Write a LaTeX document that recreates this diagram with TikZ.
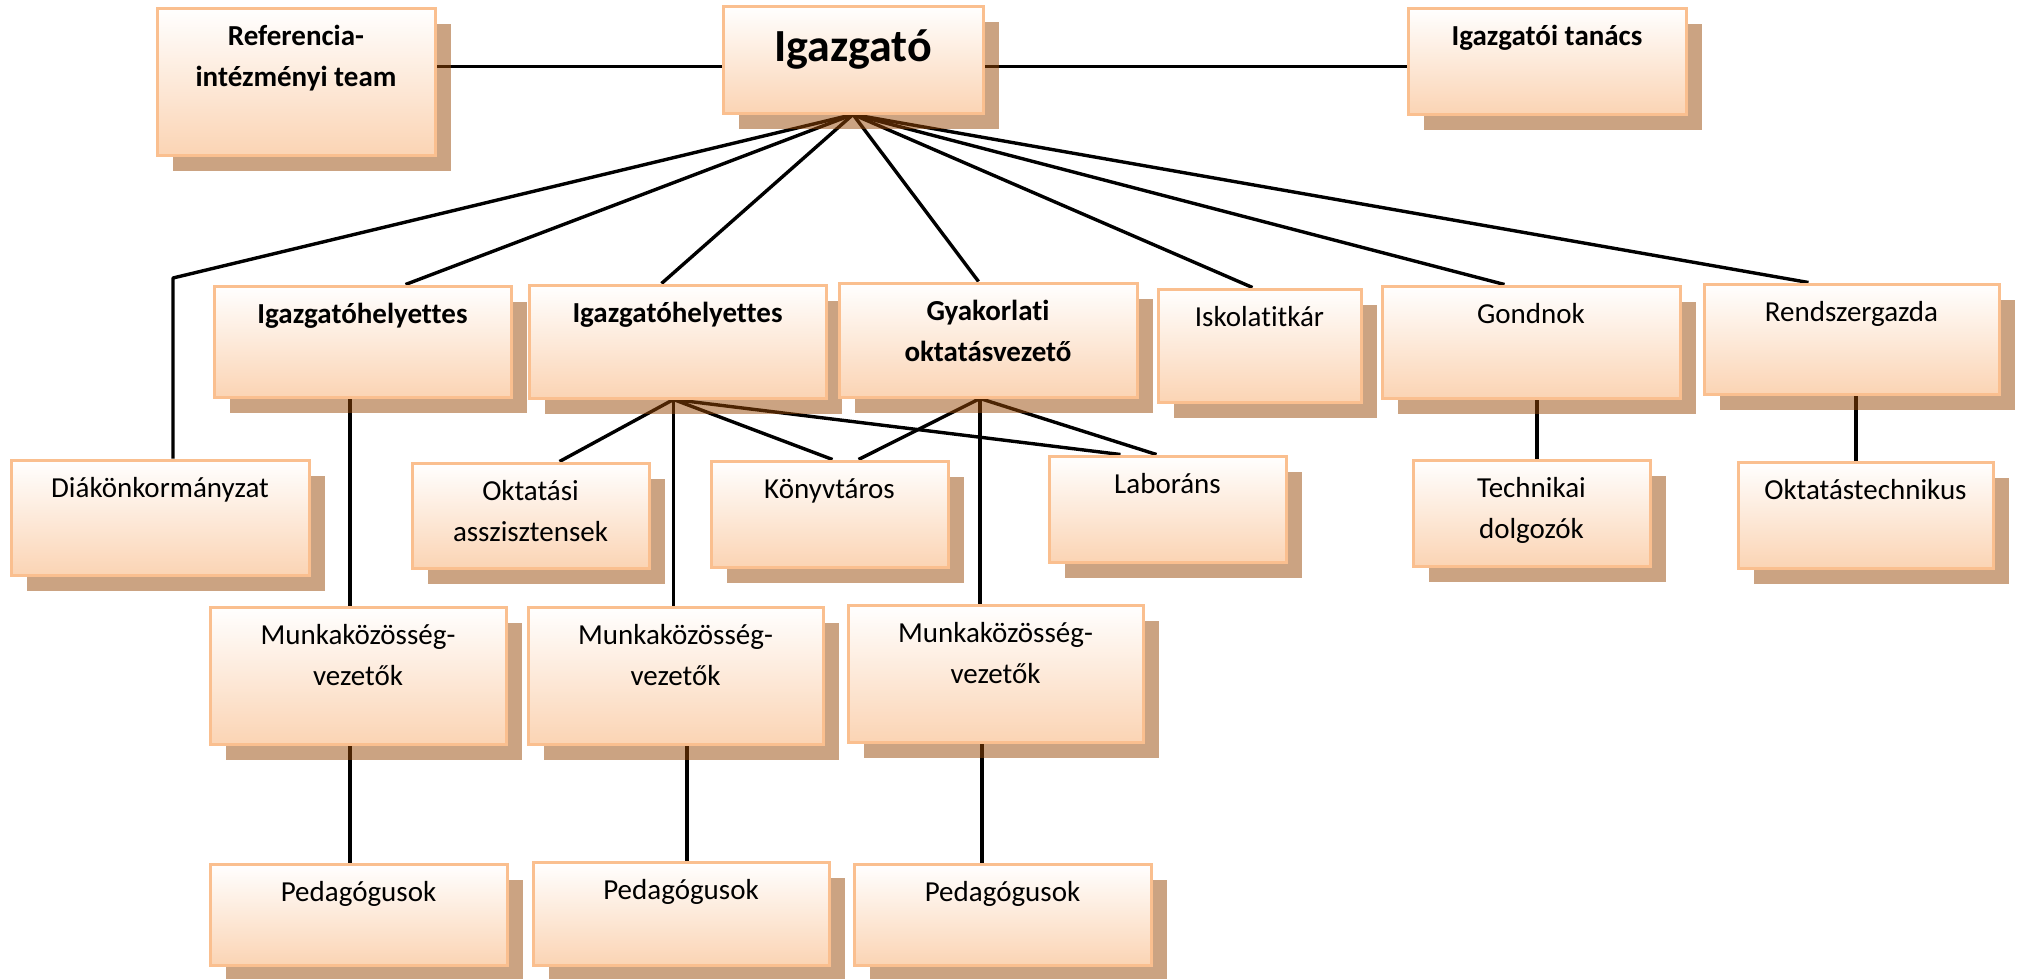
\documentclass[tikz,border=0pt]{standalone}
\usepackage{fontspec}
\setmainfont[Ligatures={NoCommon}]{Carlito}
\usetikzlibrary{shadows,calc,backgrounds}
\definecolor{bord}{RGB}{250,191,143}
\definecolor{peach}{RGB}{251,212,180}
\definecolor{shadowc}{RGB}{152,72,6}
\tikzset{
  bx/.style={draw=bord, line width=3pt, top color=white, bottom color=peach, inner sep=0pt,
    drop shadow={shadow xshift=16pt, shadow yshift=-16pt, fill=shadowc, opacity=0.5}},
  tx/.style={anchor=base, inner sep=0pt, font=\fontsize{29}{35}\selectfont},
  btx/.style={anchor=base, inner sep=0pt, font=\fontsize{29}{35}\selectfont\bfseries},
  bigtx/.style={anchor=base, inner sep=0pt, font=\fontsize{46}{55}\selectfont\bfseries},
  conn/.style={draw=black, line width=3.4pt, line join=round},
}
\newcommand\mybox[5]{\node[bx, minimum width={#4-#2}, minimum height={#5-#3}] (#1) at ({(#2+#4)/2},{(#3+#5)/2}) {};}
\newcommand\firstline[3]{\node[#2] (#1-a) at ($(#1.north)+(0,39)$) {#3};}
\newcommand\secondline[3]{\node[#2] (#1-b) at ($(#1.north)+(0,80)$) {#3};}
\begin{document}
\begin{tikzpicture}[x=1pt,y=-1pt]
\useasboundingbox (0,0) rectangle (2019,978);
% boxes
\mybox{ref}{157}{8}{435}{155}
\mybox{igaz}{723}{6}{983}{113}
\mybox{tanacs}{1408}{8}{1686}{114}
\mybox{ih1}{214}{286}{511}{397}
\mybox{ih2}{529}{285}{826}{398}
\mybox{gyak}{839}{283}{1137}{397}
\mybox{iskola}{1158}{289}{1361}{402}
\mybox{gondnok}{1382}{286}{1680}{398}
\mybox{rendszer}{1704}{284}{1999}{394}
\mybox{diak}{11}{460}{309}{575}
\mybox{oktasszt}{412}{463}{649}{568}
\mybox{konyv}{711}{461}{948}{567}
\mybox{labor}{1049}{456}{1286}{562}
\mybox{techn}{1413}{460}{1650}{566}
\mybox{okttech}{1738}{462}{1993}{568}
\mybox{mv1}{210}{607}{506}{744}
\mybox{mv2}{528}{607}{823}{744}
\mybox{mv3}{848}{605}{1143}{742}
\mybox{ped1}{210}{864}{507}{965}
\mybox{ped2}{533}{862}{829}{965}
\mybox{ped3}{854}{864}{1151}{965}
% texts
\firstline{ref}{btx}{Referencia-}
\secondline{ref}{btx}{intézményi team}
\node[bigtx] (igaz-a) at ($(igaz.north)+(0,57)$) {Igazgató};
\firstline{tanacs}{btx}{Igazgatói tanács}
\firstline{ih1}{btx}{Igazgatóhelyettes}
\firstline{ih2}{btx}{Igazgatóhelyettes}
\firstline{gyak}{btx}{Gyakorlati}
\secondline{gyak}{btx}{oktatásvezető}
\firstline{iskola}{tx}{Iskolatitkár}
\firstline{gondnok}{tx}{Gondnok}
\firstline{rendszer}{tx}{Rendszergazda}
\firstline{diak}{tx}{Diákönkormányzat}
\firstline{oktasszt}{tx}{Oktatási}
\secondline{oktasszt}{tx}{asszisztensek}
\firstline{konyv}{tx}{Könyvtáros}
\firstline{labor}{tx}{Laboráns}
\firstline{techn}{tx}{Technikai}
\secondline{techn}{tx}{dolgozók}
\firstline{okttech}{tx}{Oktatástechnikus}
\firstline{mv1}{tx}{Munkaközösség-}
\secondline{mv1}{tx}{vezetők}
\firstline{mv2}{tx}{Munkaközösség-}
\secondline{mv2}{tx}{vezetők}
\firstline{mv3}{tx}{Munkaközösség-}
\secondline{mv3}{tx}{vezetők}
\firstline{ped1}{tx}{Pedagógusok}
\firstline{ped2}{tx}{Pedagógusok}
\firstline{ped3}{tx}{Pedagógusok}
% connectors
\begin{pgfonlayer}{background}
\coordinate (igL) at ($(igaz.west)+(0,7)$);
\coordinate (igR) at ($(igaz.east)+(0,7)$);
\coordinate (dk) at (173,278);
\coordinate (ih2b) at ($(ih2.south)+(-4,0)$);
\coordinate (gyb) at ($(gyak.south)+(-8,0)$);
\coordinate (v1) at (350,0);
\coordinate (v2) at (687,0);
\coordinate (v3) at (982,0);
\coordinate (v4) at (1537,0);
\coordinate (v5) at (1856,0);
\draw[conn] (ref.east |- igL) -- (igL);
\draw[conn] (igR) -- (tanacs.west |- igR);
\draw[conn] (igaz.south) -- (dk) -- (dk |- diak.north);
\draw[conn] (igaz.south) -- ($(ih1.north west)+(193,0)$);
\draw[conn] (igaz.south) -- ($(ih2.north west)+(134,0)$);
\draw[conn] (igaz.south) -- ($(gyak.north west)+(141,0)$);
\draw[conn] (igaz.south) -- ($(iskola.north west)+(96,0)$);
\draw[conn] (igaz.south) -- ($(gondnok.north west)+(124,0)$);
\draw[conn] (igaz.south) -- ($(rendszer.north west)+(106,0)$);
\draw[conn] (ih2b) -- ($(oktasszt.north west)+(149,0)$);
\draw[conn] (ih2b) -- (ih2b |- mv2.north);
\draw[conn] (ih2b) -- ($(konyv.north west)+(123,0)$);
\draw[conn] (ih2b) -- ($(labor.north west)+(73,0)$);
\draw[conn] (gyb) -- ($(konyv.north west)+(149,0)$);
\draw[conn] (gyb) -- (gyb |- mv3.north);
\draw[conn] (gyb) -- ($(labor.north west)+(109,0)$);
\draw[conn] (v1 |- ih1.south) -- (v1 |- mv1.north);
\draw[conn] (v1 |- mv1.south) -- (v1 |- ped1.north);
\draw[conn] (v2 |- mv2.south) -- (v2 |- ped2.north);
\draw[conn] (v3 |- mv3.south) -- (v3 |- ped3.north);
\draw[conn] (v4 |- gondnok.south) -- (v4 |- techn.north);
\draw[conn] (v5 |- rendszer.south) -- (v5 |- okttech.north);
\end{pgfonlayer}
\end{tikzpicture}
\end{document}
